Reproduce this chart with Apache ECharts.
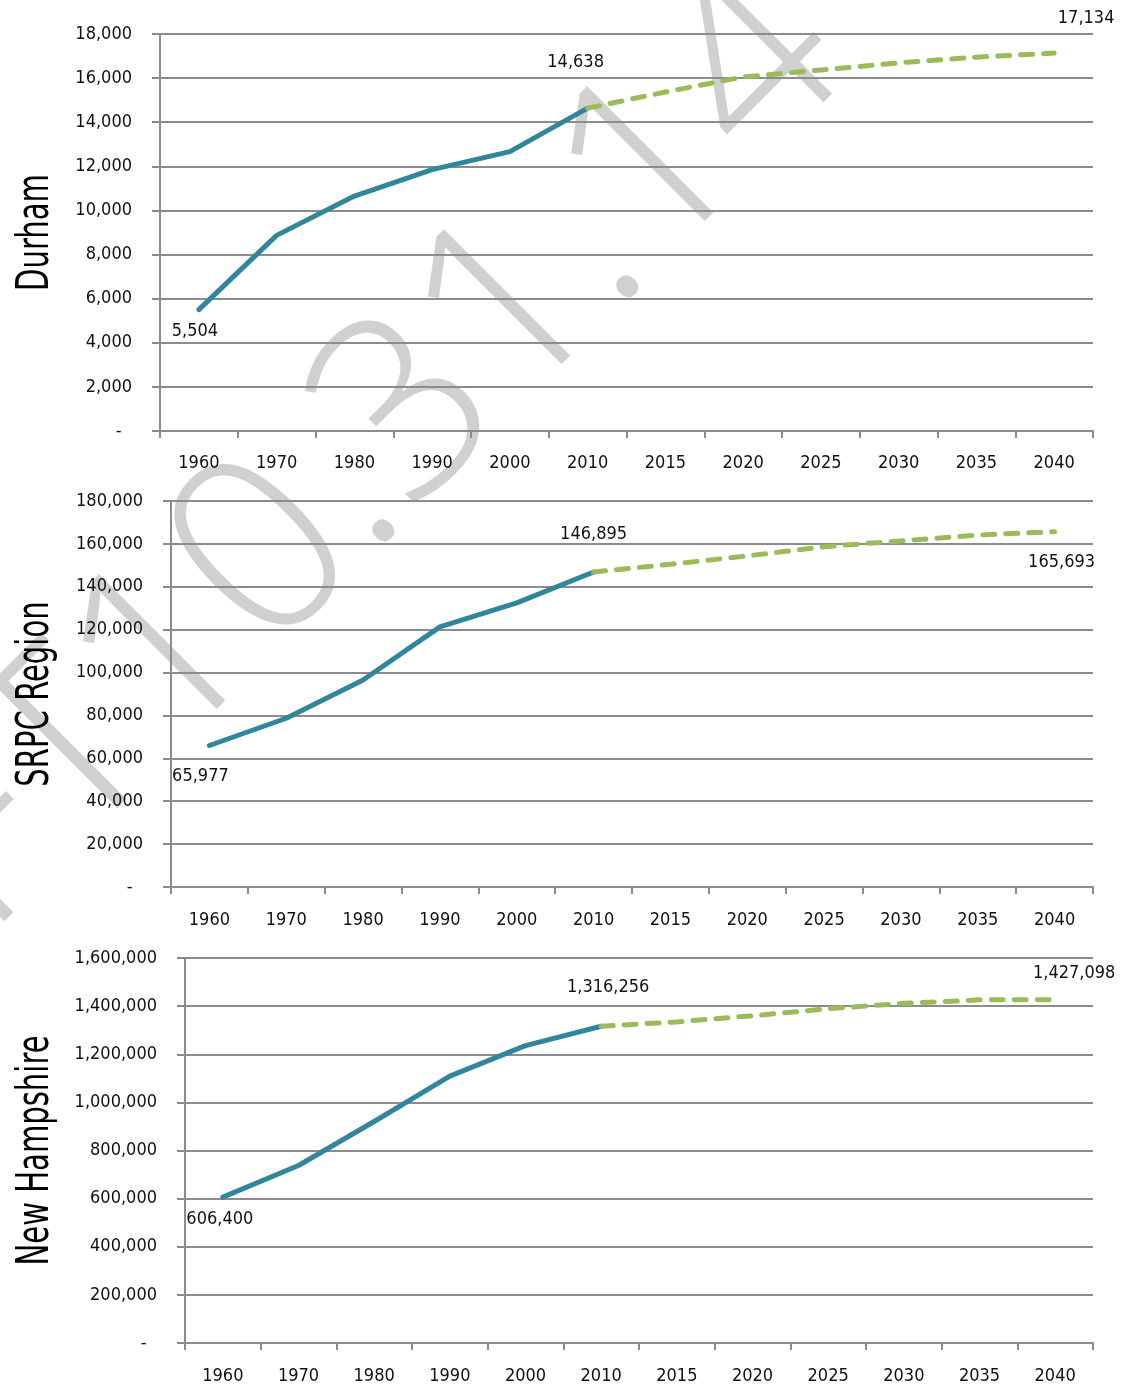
<!DOCTYPE html>
<html>
<head>
<meta charset="utf-8">
<title>Population trends and projections</title>
<script src="https://cdn.jsdelivr.net/npm/echarts@6/dist/echarts.min.js"></script>
<style>
  html, body { margin: 0; padding: 0; background: #ffffff; }
  #chart { width: 1138px; height: 1388px; }
</style>
</head>
<body>
<div id="chart"></div>
<script>
// Decades of census counts followed by five-year projections
const years = ['1960', '1970', '1980', '1990', '2000', '2010', '2015', '2020', '2025', '2030', '2035', '2040'];
const censusYears = ['1960', '1970', '1980', '1990', '2000', '2010'];
const projectionYears = ['2010', '2015', '2020', '2025', '2030', '2035', '2040'];

// Durham
const durhamCensus = [5504, 8869, 10652, 11850, 12664, 14638];
const durhamProjected = [14638, 15370, 16050, 16370, 16690, 16950, 17134];

// SRPC Region
const srpcCensus = [65977, 78700, 96500, 121300, 132500, 146895];
const srpcProjected = [146895, 150500, 154400, 158700, 161400, 164100, 165693];

// New Hampshire
const nhCensus = [606400, 737681, 920610, 1109252, 1235786, 1316256];
const nhProjected = [1316256, 1334500, 1360000, 1389000, 1411500, 1426000, 1427098];

// y-axis scales
const durhamAxis = { max: 18000, interval: 2000 };
const srpcAxis = { max: 180000, interval: 20000 };
const nhAxis = { max: 1600000, interval: 200000 };

const FONT = "'DejaVu Sans Condensed', 'Liberation Sans Narrow', sans-serif";
const GRAY = '#8c8c8c';
const HIST_COLOR = '#31859c';
const PROJ_COLOR = '#9bbb59';
const TEXT_SIZE = 18;

const fmt = v => Number(v).toLocaleString('en-US');

// label placement (pixel offsets from the point) keyed by year
function buildSeries(categories, source, labelOffsets) {
  return years.map(y => {
    const i = categories.indexOf(y);
    if (i < 0) return null;
    const v = source[i];
    if (labelOffsets[y]) {
      return {
        value: v,
        symbol: 'circle',
        symbolSize: 1,
        itemStyle: { color: 'rgba(0,0,0,0)', borderWidth: 0 },
        label: {
          show: true,
          position: 'inside',
          offset: labelOffsets[y],
          formatter: p => fmt(p.value),
          fontFamily: FONT,
          fontSize: TEXT_SIZE,
          color: '#111'
        }
      };
    }
    return v;
  });
}

const panels = [
  {
    name: 'Durham', top: 34, height: 397, left: 160, labelMargin: 23, axis: durhamAxis,
    census: durhamCensus, projected: durhamProjected,
    histLabels: { '1960': [-4, 22], '2010': [-12, -46] },
    projLabels: { '2040': [32, -35] }
  },
  {
    name: 'SRPC Region', top: 501, height: 386, left: 171, labelMargin: 24, axis: srpcAxis,
    census: srpcCensus, projected: srpcProjected,
    histLabels: { '1960': [-9, 31], '2010': [0, -38] },
    projLabels: { '2040': [7, 31] }
  },
  {
    name: 'New Hampshire', top: 958, height: 385, left: 185, labelMargin: 24, axis: nhAxis,
    census: nhCensus, projected: nhProjected,
    histLabels: { '1960': [-3, 22], '2010': [7, -39] },
    projLabels: { '2040': [19, -26] }
  }
];

const grid = [], xAxis = [], yAxis = [], series = [], titles = [];

panels.forEach((p, idx) => {
  grid.push({
    left: p.left, right: 45, top: p.top, height: p.height,
    containLabel: false, outerBoundsMode: 'none'
  });
  xAxis.push({
    type: 'category',
    gridIndex: idx,
    data: years,
    boundaryGap: true,
    axisLine: { show: true, lineStyle: { color: GRAY, width: 2 } },
    axisTick: { show: true, alignWithLabel: false, length: 7, lineStyle: { color: GRAY, width: 2 } },
    axisLabel: { fontFamily: FONT, fontSize: TEXT_SIZE, color: '#111', margin: p.labelMargin, interval: 0 },
    splitLine: { show: false }
  });
  yAxis.push({
    type: 'value',
    gridIndex: idx,
    min: 0,
    max: p.axis.max,
    interval: p.axis.interval,
    axisLine: { show: true, lineStyle: { color: GRAY, width: 2 } },
    axisTick: { show: true, length: 8, lineStyle: { color: GRAY, width: 2 } },
    axisLabel: {
      fontFamily: FONT, fontSize: TEXT_SIZE, color: '#111', margin: 28,
      formatter: v => (v === 0 ? '-  ' : fmt(v))
    },
    splitLine: { show: true, lineStyle: { color: GRAY, width: 2 } }
  });
  series.push({
    type: 'line',
    name: p.name + ' census',
    xAxisIndex: idx,
    yAxisIndex: idx,
    data: buildSeries(censusYears, p.census, p.histLabels),
    showSymbol: true,
    symbol: 'none',
    lineStyle: { color: HIST_COLOR, width: 5, cap: 'round', join: 'round' },
    itemStyle: { color: HIST_COLOR },
    connectNulls: false,
    silent: true,
    z: 3
  });
  series.push({
    type: 'line',
    name: p.name + ' projection',
    xAxisIndex: idx,
    yAxisIndex: idx,
    data: buildSeries(projectionYears, p.projected, p.projLabels),
    showSymbol: true,
    symbol: 'none',
    lineStyle: { color: PROJ_COLOR, width: 5, type: [12, 11], cap: 'round' },
    itemStyle: { color: PROJ_COLOR },
    connectNulls: false,
    silent: true,
    z: 4
  });
  // vertical panel title, centred on the plot height
  titles.push({
    type: 'text',
    x: 37,
    y: p.top + p.height / 2,
    rotation: Math.PI / 2,
    scaleX: 0.735,
    silent: true,
    z: 5,
    style: {
      text: p.name,
      fontFamily: FONT,
      fontSize: 44,
      fill: '#000',
      align: 'center',
      verticalAlign: 'middle'
    }
  });
});

// draft stamp running diagonally across the page
const stampStyle = {
  fontFamily: "'Open Sans', 'Noto Sans', sans-serif",
  fontWeight: 300,
  fontSize: 250,
  fill: '#d0d0d0',
  verticalAlign: 'middle'
};
const stamp = [
  {
    type: 'text', x: 461, y: 364, rotation: Math.PI / 4, z: -10, silent: true,
    style: Object.assign({ text: '10.31.14', align: 'center' }, stampStyle)
  },
  {
    type: 'text', x: 118, y: 707, rotation: Math.PI / 4, z: -10, silent: true,
    style: Object.assign({ text: 'DRAFT', align: 'right' }, stampStyle)
  }
];

const chart = echarts.init(document.getElementById('chart'), null, { renderer: 'canvas' });
chart.setOption({
  animation: false,
  backgroundColor: '#ffffff',
  grid, xAxis, yAxis, series,
  graphic: stamp.concat(titles)
});
</script>
</body>
</html>
